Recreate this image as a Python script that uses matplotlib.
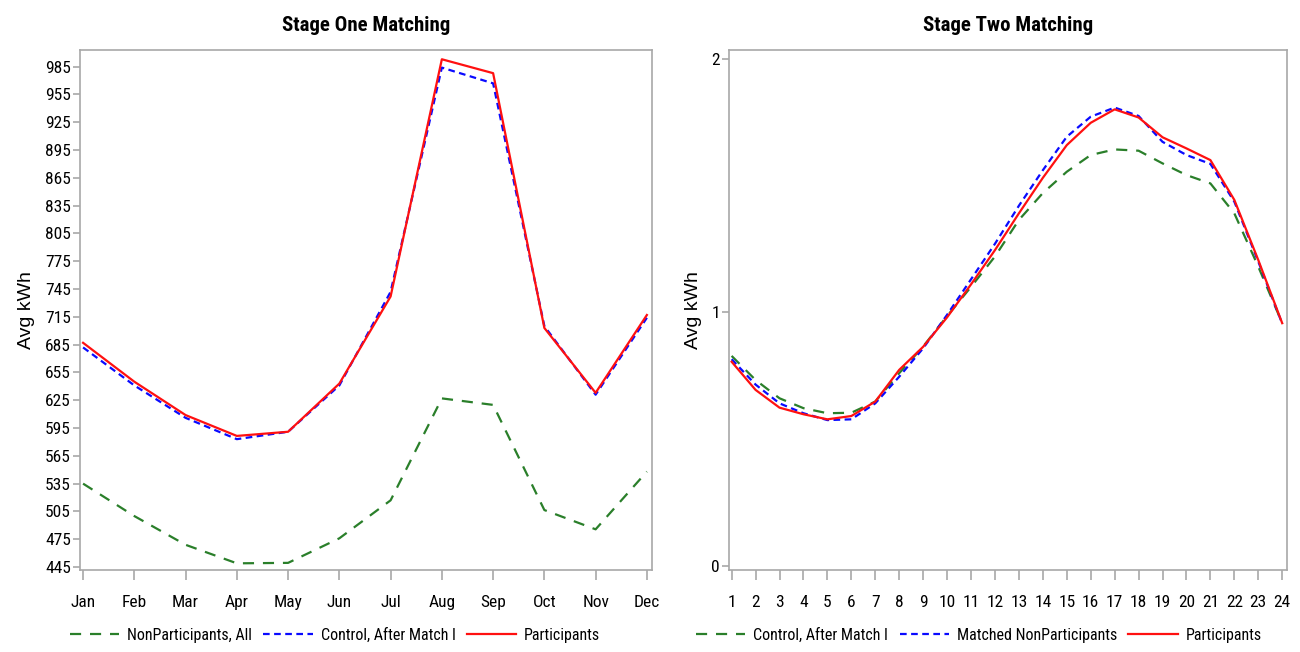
import matplotlib
matplotlib.use("Agg")
import matplotlib.pyplot as plt
from matplotlib import font_manager as fm

names = {f.name for f in fm.fontManager.ttflist}
NARROW = [n for n in ["Roboto Condensed", "Archivo Narrow", "PT Sans Narrow", "Liberation Sans"] if n in names][:1] + ['DejaVu Sans']
WIDE = ['Liberation Sans', 'DejaVu Sans']
plt.rcParams['font.family'] = NARROW

months = ["Jan", "Feb", "Mar", "Apr", "May", "Jun", "Jul", "Aug", "Sep", "Oct", "Nov", "Dec"]
nonpart_all = [535, 500, 469, 449, 449.5, 476, 517, 627, 620, 506.5, 485.7, 548]
control_m1 = [682, 641, 606, 583, 591, 641, 742, 984, 967, 705, 631, 714]
participants_m = [687, 645, 609, 586.5, 591, 643, 737, 993, 978, 703, 633, 717]
left_yticks = list(range(445, 986, 30))

hours = list(range(1, 25))
control_h = [0.828, 0.733, 0.661, 0.622, 0.602, 0.604, 0.648, 0.76, 0.865, 0.985, 1.10, 1.22,
             1.364, 1.47, 1.554, 1.62, 1.642, 1.637, 1.587, 1.541, 1.508, 1.39, 1.18, 0.957]
matched_h = [0.815, 0.715, 0.641, 0.602, 0.575, 0.578, 0.641, 0.746, 0.858, 0.99, 1.13, 1.27,
             1.42, 1.56, 1.692, 1.771, 1.807, 1.774, 1.672, 1.62, 1.585, 1.436, 1.2, 0.955]
participants_h = [0.805, 0.694, 0.624, 0.598, 0.578, 0.591, 0.648, 0.773, 0.864, 0.98, 1.11, 1.245,
                  1.39, 1.53, 1.659, 1.747, 1.80, 1.768, 1.69, 1.646, 1.60, 1.443, 1.206, 0.957]

GREEN = "#2a7f2a"
BLUE = "#0a0aff"
RED = "#ff1010"
SPINE = "#a8a8a8"

fig = plt.figure(figsize=(13, 6.52), dpi=100)
ax1 = fig.add_axes([80/1300, 82/652, 572/1300, 520/652])
ax2 = fig.add_axes([729/1300, 82/652, 558/1300, 520/652])

def style(ax):
    for s in ax.spines.values():
        s.set_color(SPINE)
        s.set_linewidth(1.2)
    ax.tick_params(axis='both', colors=SPINE, labelcolor='black', labelsize=12.5, width=1.2)
    ax.tick_params(axis='x', length=7, pad=11)
    ax.tick_params(axis='y', length=5, pad=1.5)
    ax.set_ylabel("Avg kWh", fontsize=14, family=WIDE, labelpad=7)

x1 = list(range(len(months)))
l1, = ax1.plot(x1, nonpart_all, color=GREEN, lw=1.6, dashes=(5, 4))
l2, = ax1.plot(x1, control_m1, color=BLUE, lw=1.6, dashes=(3, 2))
l3, = ax1.plot(x1, participants_m, color=RED, lw=1.6)
ax1.set_xticks(x1)
ax1.set_xticklabels(months)
ax1.set_yticks(left_yticks)
ax1.set_xlim(-0.06, 11.1)
ax1.set_ylim(441.8, 1003)
style(ax1)
ax1.set_title("Stage One Matching", fontsize=15, fontweight='bold', pad=14)

r1, = ax2.plot(hours, control_h, color=GREEN, lw=1.6, dashes=(5, 4))
r2, = ax2.plot(hours, matched_h, color=BLUE, lw=1.6, dashes=(3, 2))
r3, = ax2.plot(hours, participants_h, color=RED, lw=1.6)
ax2.set_xticks(hours)
ax2.set_yticks([0, 1, 2])
ax2.set_xlim(0.89, 24.2)
ax2.set_ylim(-0.016, 2.034)
style(ax2)
ax2.set_title("Stage Two Matching", fontsize=15, fontweight='bold', pad=14)

leg_kw = dict(loc='center', ncol=3, frameon=False, fontsize=11.5, handlelength=3.1,
              columnspacing=0.7, handletextpad=0.5, borderaxespad=0, borderpad=0)
fig.legend([l1, l2, l3], ["NonParticipants, All", "Control, After Match I", "Participants"],
           bbox_to_anchor=(335/1300, 1 - 635/652), **leg_kw)
fig.legend([r1, r2, r3], ["Control, After Match I", "Matched NonParticipants", "Participants"],
           bbox_to_anchor=(979/1300, 1 - 635/652), **leg_kw)

fig.savefig("out.png", dpi=100, facecolor='white')
